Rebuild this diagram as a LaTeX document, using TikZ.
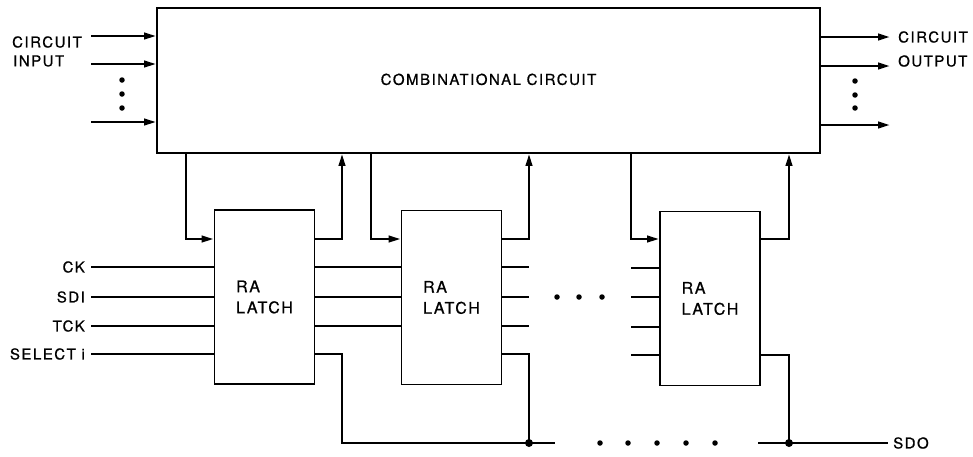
\documentclass[tikz,border=0pt]{standalone}
\usepackage{fontspec}
\setmainfont[LetterSpace=10,FakeBold=0.8]{TeX Gyre Heros}
\usetikzlibrary{arrows.meta}
\begin{document}
\begin{tikzpicture}[x=1pt,y=-1pt,
  wire/.style={line width=2.5pt},
  boxst/.style={draw, line width=1.8pt, inner sep=0pt},
  latch/.style={boxst, minimum width=100pt, minimum height=174pt, align=left, font=\fontsize{16}{21}\selectfont},
  arr/.style={-{Triangle[length=12pt,width=6.5pt]}},
  lbl/.style={font=\fontsize{15}{17}\selectfont, inner sep=0pt},
  jdot/.style={circle, fill, inner sep=0pt, minimum size=8pt},
  sdot/.style={circle, fill, inner sep=0pt, minimum size=5.5pt}]
\useasboundingbox (0,0) rectangle (973,456);

% main box
\node[boxst, minimum width=663pt, minimum height=145pt, font=\fontsize{15}{17}\selectfont] (cc) at (488.5,80.5) {\raisebox{2.5pt}{COMBINATIONAL CIRCUIT}};

% latches
\node[latch] (L1) at (264.5,297) {RA\\LATCH};
\node[latch] (L2) at (451.5,297.5) {RA\\LATCH};
\node[latch] (L3) at (710,298.5) {RA\\LATCH};

% circuit inputs
\coordinate (i1) at (91,36);
\coordinate (i2) at (91,64);
\coordinate (i3) at (91,122);
\foreach \c in {i1,i2,i3} \draw[wire,arr] (\c) -- (\c -| cc.west);
\node[lbl, anchor=west] (cin1) at (12,42) {CIRCUIT};
\node[lbl, anchor=west] (cin2) at (13,61) {INPUT};
\foreach \y/\n in {80/a,94/b,108/c} \node[sdot] (ind\n) at (122,\y) {};

% circuit outputs
\coordinate (o1) at (890,37);
\coordinate (o2) at (890,66);
\coordinate (o3) at (890,125);
\foreach \c in {o1,o2,o3} \draw[wire,arr] (\c -| cc.east) -- (\c);
\node[lbl, anchor=west] (cout1) at (898,37) {CIRCUIT};
\node[lbl, anchor=west] (cout2) at (898,61) {OUTPUT};
\foreach \y/\n in {81/a,95/b,108/c} \node[sdot] (outd\n) at (855,\y) {};

% control inputs to latch 1
\coordinate (ck) at (91,267);
\coordinate (sdi) at (91,297);
\coordinate (tck) at (91,326);
\coordinate (sel) at (91,354);
\foreach \c in {ck,sdi,tck,sel} \draw[wire] (\c) -- (\c -| L1.west);
\node[lbl, anchor=east] (lck) at (85,267) {CK};
\node[lbl, anchor=east] (lsdi) at (85,297) {SDI};
\node[lbl, anchor=east] (ltck) at (85,326) {TCK};
\node[lbl, anchor=east] (lsel) at (85,354) {SELECT i};

% feedback: main box -> latches
\coordinate (f1) at (186,239);
\coordinate (f2) at (371,239);
\coordinate (f3) at (631,239);
\draw[wire,arr] (f1 |- cc.south) -- (f1) -- (f1 -| L1.west);
\draw[wire,arr] (f2 |- cc.south) -- (f2) -- (f2 -| L2.west);
\draw[wire,arr] (f3 |- cc.south) -- (f3) -- (f3 -| L3.west);

% latch outputs -> main box
\coordinate (g1) at (342,239);
\coordinate (g2) at (529,239);
\coordinate (g3) at (789,239);
\draw[wire,arr] (g1 -| L1.east) -- (g1) -- (g1 |- cc.south);
\draw[wire,arr] (g2 -| L2.east) -- (g2) -- (g2 |- cc.south);
\draw[wire,arr] (g3 -| L3.east) -- (g3) -- (g3 |- cc.south);

% latch 1 -> latch 2
\foreach \y in {267,297,326} \draw[wire] (L1.east |- 0,\y) -- (L2.west |- 0,\y);
% latch 2 stubs
\foreach \y in {267,297,326} \draw[wire] (L2.east |- 0,\y) -- (529,\y);
% latch 3 stubs
\foreach \y in {268,297,327,355} \draw[wire] (631,\y) -- (L3.west |- 0,\y);
\foreach \x/\n in {557/a,579/b,602/c} \node[sdot] (md\n) at (\x,297) {};

% SDO bus
\node[jdot] (j2) at (529,443) {};
\node[jdot] (j3) at (789,443) {};
\coordinate (b1) at (342,443);
\coordinate (bl) at (555,443);
\coordinate (br) at (758,443);
\coordinate (sdo) at (888,443);
\draw[wire] (L1.east |- 0,354) -| (b1) -- (bl);
\draw[wire] (L2.east |- 0,354) -| (j2.center);
\draw[wire] (L3.east |- 0,355) -| (j3.center);
\draw[wire] (br) -- (sdo);
\node[lbl, anchor=west] (lsdo) at (893,443) {SDO};
\foreach \x/\n in {600/a,628/b,657/c,686/d,715/e} \node[sdot] (bd\n) at (\x,443) {};
\end{tikzpicture}
\end{document}
